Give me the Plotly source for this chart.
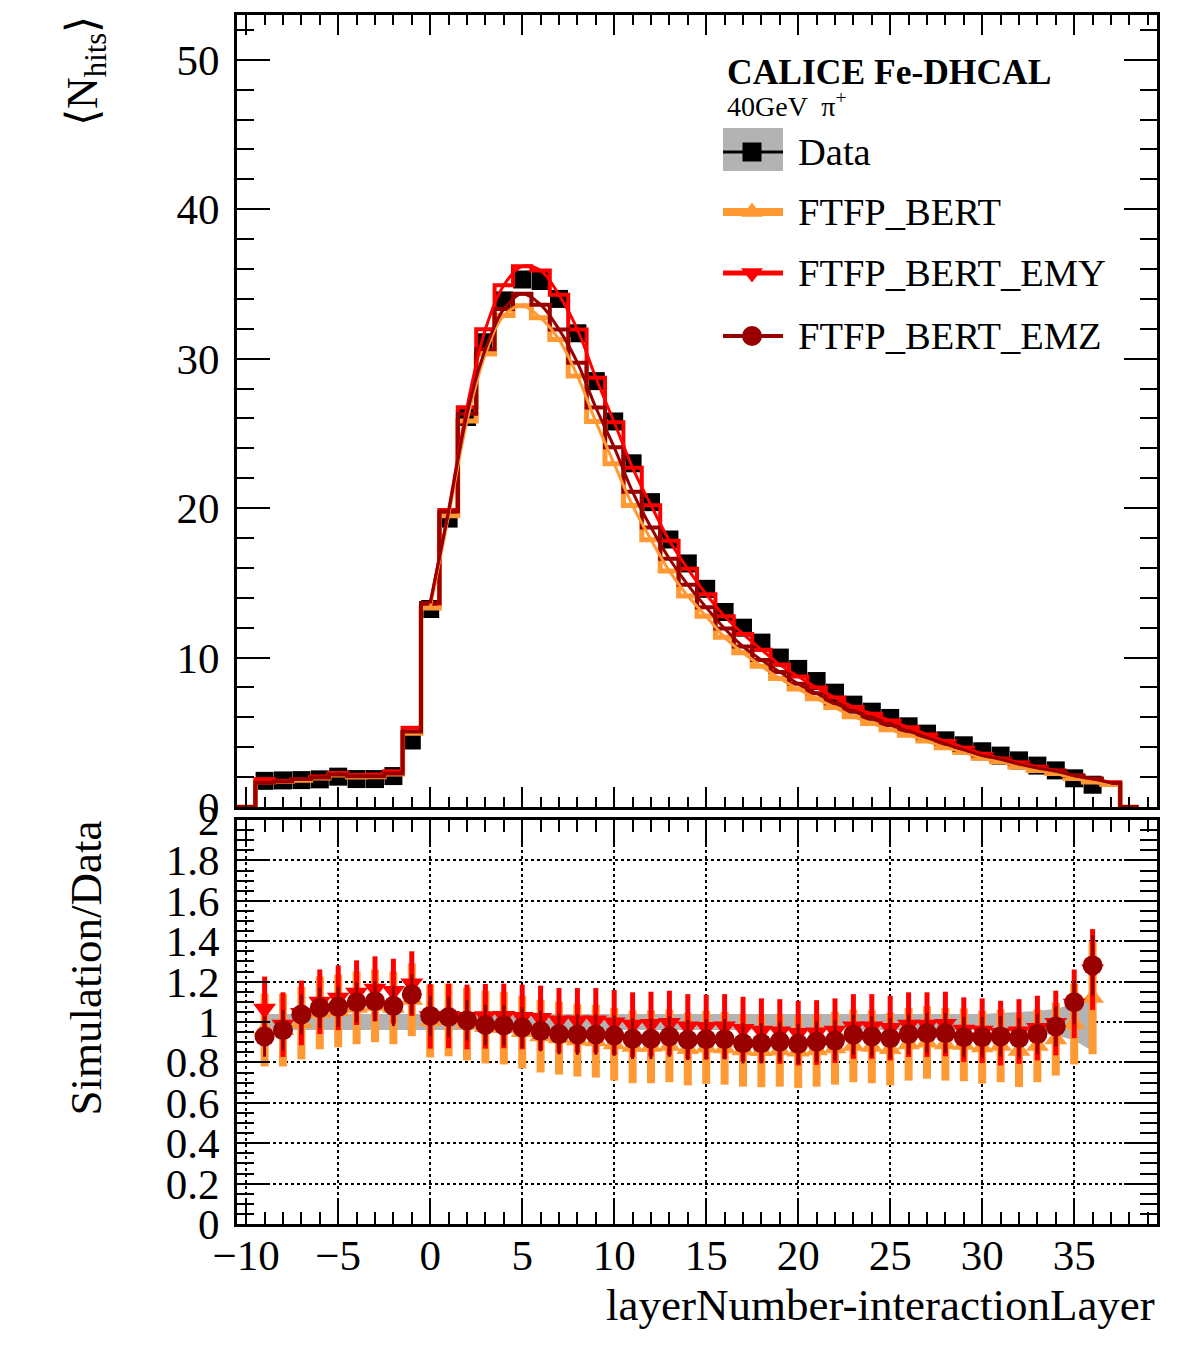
import plotly.graph_objects as go

# ---------------- data ----------------
layers = list(range(-9, 37))  # bin centres with data

data_hits = [1.75, 1.78, 1.80, 1.85, 2.03, 1.87, 1.87, 2.07, 4.45,
             13.25, 19.3, 26.1, 31.1, 33.9, 35.3, 35.2, 34.0, 31.7, 28.5,
             25.8, 23.0, 20.4, 17.9, 16.3, 14.6, 13.05, 12.0, 11.0, 10.0,
             9.24, 8.43, 7.65, 6.85, 6.38, 5.96, 5.40, 4.91, 4.46, 4.13,
             3.73, 3.44, 3.12, 2.77, 2.45, 1.92, 1.49]

ratio_ftfp = [0.96, 0.96, 0.995, 1.045, 1.055, 1.07, 1.08, 1.07, 1.11,
              1.005, 1.01, 0.99, 0.975, 0.97, 0.95, 0.93, 0.92, 0.91, 0.905,
              0.89, 0.877, 0.877, 0.882, 0.866, 0.874, 0.87, 0.86, 0.857, 0.86,
              0.854, 0.86, 0.87, 0.882, 0.877, 0.866, 0.89, 0.899, 0.89, 0.887,
              0.875, 0.882, 0.858, 0.882, 0.915, 0.99, 1.12]

ratio_emy = [1.065, 0.987, 1.045, 1.10, 1.12, 1.145, 1.165, 1.153, 1.19,
             1.028, 1.03, 1.025, 1.028, 1.03, 1.025, 1.02, 1.008, 1.008, 1.008,
             0.998, 0.987, 0.99, 0.995, 0.978, 0.975, 0.978, 0.965, 0.957, 0.953,
             0.945, 0.948, 0.957, 0.978, 0.978, 0.97, 0.987, 0.987, 0.99, 0.962,
             0.957, 0.945, 0.953, 0.97, 0.995, 1.09, 1.26]

ratio_emz = [0.928, 0.96, 1.037, 1.07, 1.075, 1.098, 1.103, 1.08, 1.137,
             1.03, 1.025, 1.008, 0.985, 0.983, 0.973, 0.955, 0.94, 0.938, 0.938,
             0.933, 0.917, 0.917, 0.928, 0.912, 0.915, 0.915, 0.895, 0.895, 0.903,
             0.892, 0.903, 0.908, 0.937, 0.928, 0.92, 0.94, 0.945, 0.945, 0.925,
             0.925, 0.928, 0.92, 0.94, 0.978, 1.098, 1.28]

err_ftfp = [0.18] * 44 + [0.20, 0.28]
err_emy = [0.16] * 44 + [0.17, 0.20]
err_emz = [0.10] * 44 + [0.11, 0.15]

data_band_err = [0.04] * 40 + [0.045, 0.05, 0.055, 0.065, 0.09, 0.145]

# simulated bin beyond the last data bin
extra_bin = 37
extra_ftfp, extra_emy, extra_emz = 1.50, 1.65, 1.60

sim_ftfp = [d * r for d, r in zip(data_hits, ratio_ftfp)] + [extra_ftfp]
sim_emy = [d * r for d, r in zip(data_hits, ratio_emy)] + [extra_emy]
sim_emz = [d * r for d, r in zip(data_hits, ratio_emz)] + [extra_emz]
sim_bins = layers + [extra_bin]

# ---------------- style ----------------
FONT = "Liberation Serif"
C_ORANGE = "#FF9933"
C_RED = "#FF0000"
C_DRED = "#990000"
C_GRAY = "#B3B3B3"

W, H = 1182, 1361
L, R, T, B = 237, 25, 15, 137
PW, PH = W - L - R, H - T - B

XMIN, XMAX = -10.5, 39.5
YTOP_MAX = 53.0
TOP_PIX_BOTTOM = 807
LOW_PIX_TOP = 820


def px(x):
    return (x - L) / PW


def py(y):
    return (H - B - y) / PH


def dx(xp):  # pixel -> data x
    return XMIN + (xp - L) * (XMAX - XMIN) / PW


def dy(yp):  # pixel -> top-panel data y
    return (TOP_PIX_BOTTOM - yp) * YTOP_MAX / (TOP_PIX_BOTTOM - T)


fig = go.Figure()

# ---------- top panel ----------
fig.add_trace(go.Scatter(x=layers, y=data_hits, mode="markers",
                         marker=dict(symbol="square", size=18, color="black"),
                         xaxis="x", yaxis="y", showlegend=False))


def step_xy(vals):
    xs = [sim_bins[0] - 1.5] + [b - 0.5 for b in sim_bins] + [sim_bins[-1] + 0.5, sim_bins[-1] + 1.5]
    ys = [0] + list(vals) + [0, 0]
    return xs, ys


for vals, col, w in [(sim_ftfp, C_ORANGE, 5), (sim_emy, C_RED, 4), (sim_emz, C_DRED, 4)]:
    xs, ys = step_xy(vals)
    fig.add_trace(go.Scatter(x=xs, y=ys, mode="lines", line=dict(color=col, width=w, shape="hv"),
                             xaxis="x", yaxis="y", showlegend=False))

for vals, col in [(sim_ftfp, C_ORANGE), (sim_emy, C_RED), (sim_emz, C_DRED)]:
    xs = [b for b in sim_bins if b >= 0]
    ys = [v for b, v in zip(sim_bins, vals) if b >= 0]
    fig.add_trace(go.Scatter(x=xs, y=ys, mode="lines",
                             line=dict(color=col, width=3, shape="spline", smoothing=1),
                             xaxis="x", yaxis="y", showlegend=False))

# ---------- ratio panel ----------
band_up = [1 + e for e in data_band_err]
band_lo = [1 - e for e in data_band_err]
fig.add_trace(go.Scatter(x=layers + layers[::-1], y=band_up + band_lo[::-1], fill="toself",
                         fillcolor=C_GRAY, line=dict(width=0), mode="lines",
                         xaxis="x2", yaxis="y2", showlegend=False))

for vals, errs, col, sym, thick in [
    (ratio_ftfp, err_ftfp, C_ORANGE, "triangle-up", 8),
    (ratio_emy, err_emy, C_RED, "triangle-down", 5),
    (ratio_emz, err_emz, C_DRED, "circle", 3),
]:
    fig.add_trace(go.Scatter(x=layers, y=vals, mode="markers",
                             marker=dict(symbol=sym, size=20, color=col),
                             error_y=dict(type="data", array=errs, color=col, thickness=thick, width=0),
                             xaxis="x2", yaxis="y2", showlegend=False))

# ---------- legend (drawn by hand in top-panel coordinates) ----------
leg_x0, leg_x1, leg_xm = 723, 783, 752
rows = [(152, "Data"), (212, "FTFP_BERT"), (273, "FTFP_BERT_EMY"), (336, "FTFP_BERT_EMZ")]

fig.add_shape(type="rect", xref="x", yref="y", x0=dx(leg_x0), x1=dx(leg_x1),
              y0=dy(171), y1=dy(128), fillcolor=C_GRAY, line=dict(width=0), layer="below")

leg_styles = [("black", 3, "square", 19), (C_ORANGE, 8, "triangle-up", 19),
              (C_RED, 5, "triangle-down", 19), (C_DRED, 4, "circle", 20)]
for (yrow, label), (col, lw, sym, ms) in zip(rows, leg_styles):
    fig.add_trace(go.Scatter(x=[dx(leg_x0), dx(leg_x1)], y=[dy(yrow), dy(yrow)], mode="lines",
                             line=dict(color=col, width=lw), xaxis="x", yaxis="y", showlegend=False))
    fig.add_trace(go.Scatter(x=[dx(leg_xm)], y=[dy(yrow)], mode="markers",
                             marker=dict(symbol=sym, size=ms, color=col), xaxis="x", yaxis="y",
                             showlegend=False))
    fig.add_annotation(x=px(796), y=py(yrow), xref="paper", yref="paper", text=label,
                       showarrow=False, xanchor="left", yanchor="middle",
                       font=dict(family=FONT, size=38.5, color="black"))

fig.add_annotation(x=px(725), y=py(72), xref="paper", yref="paper", text="<b>CALICE Fe-DHCAL</b>",
                   showarrow=False, xanchor="left", yanchor="middle",
                   font=dict(family=FONT, size=35.5, color="black"))
fig.add_annotation(x=px(725), y=py(104), xref="paper", yref="paper", text="40GeV  π<sup>+</sup>",
                   showarrow=False, xanchor="left", yanchor="middle",
                   font=dict(family=FONT, size=28, color="black"))

# ---------- axis titles ----------
fig.add_annotation(x=px(85), y=py(14), xref="paper", yref="paper",
                   text="⟨N<sub>hits</sub>⟩", textangle=-90, showarrow=False,
                   xanchor="center", yanchor="top", font=dict(family=FONT, size=44, color="black"))
fig.add_annotation(x=px(85), y=py(819), xref="paper", yref="paper",
                   text="Simulation/Data", textangle=-90, showarrow=False,
                   xanchor="center", yanchor="top", font=dict(family=FONT, size=45, color="black"))
fig.add_annotation(x=px(1157), y=py(1305), xref="paper", yref="paper",
                   text="layerNumber-interactionLayer", showarrow=False,
                   xanchor="right", yanchor="middle", font=dict(family=FONT, size=45, color="black"))

axis_common = dict(showline=True, linecolor="black", linewidth=3, mirror="ticks",
                   ticks="inside", tickcolor="black", tickwidth=2, zeroline=False, automargin=False,
                   tickfont=dict(family=FONT, size=43, color="black"))

top_dom = [(H - B - TOP_PIX_BOTTOM) / PH, 1.0]
low_dom = [0.0, (H - B - LOW_PIX_TOP) / PH]

fig.update_layout(
    width=W, height=H, margin=dict(l=L, r=R, t=T, b=B, autoexpand=False),
    paper_bgcolor="white", plot_bgcolor="white", showlegend=False,
    xaxis=dict(domain=[0, 1], anchor="y", range=[XMIN, XMAX], tick0=0, dtick=5, ticklen=20,
               showticklabels=False, showgrid=False,
               minor=dict(dtick=1, ticklen=10, ticks="inside", tickcolor="black", tickwidth=2, showgrid=False),
               **axis_common),
    yaxis=dict(domain=top_dom, anchor="x", range=[0, YTOP_MAX], tick0=0, dtick=10, ticklen=33,
               showgrid=False, ticklabelstandoff=6,
               minor=dict(dtick=2, ticklen=17, ticks="inside", tickcolor="black", tickwidth=2, showgrid=False),
               **axis_common),
    xaxis2=dict(domain=[0, 1], anchor="y2", range=[XMIN, XMAX], tick0=0, dtick=5, ticklen=24,
                showgrid=True, gridcolor="black", griddash="dot", gridwidth=1.5,
                ticklabelstandoff=-9,
                minor=dict(dtick=1, ticklen=12, ticks="inside", tickcolor="black", tickwidth=2, showgrid=False),
                **axis_common),
    yaxis2=dict(domain=low_dom, anchor="x2", range=[0, 2.0], tick0=0, dtick=0.2, ticklen=33,
                showgrid=True, gridcolor="black", griddash="dot", gridwidth=1.5,
                ticklabelstandoff=6,
                minor=dict(dtick=0.05, ticklen=17, ticks="inside", tickcolor="black", tickwidth=2, showgrid=False),
                **axis_common),
)

fig.write_html("out.html")
